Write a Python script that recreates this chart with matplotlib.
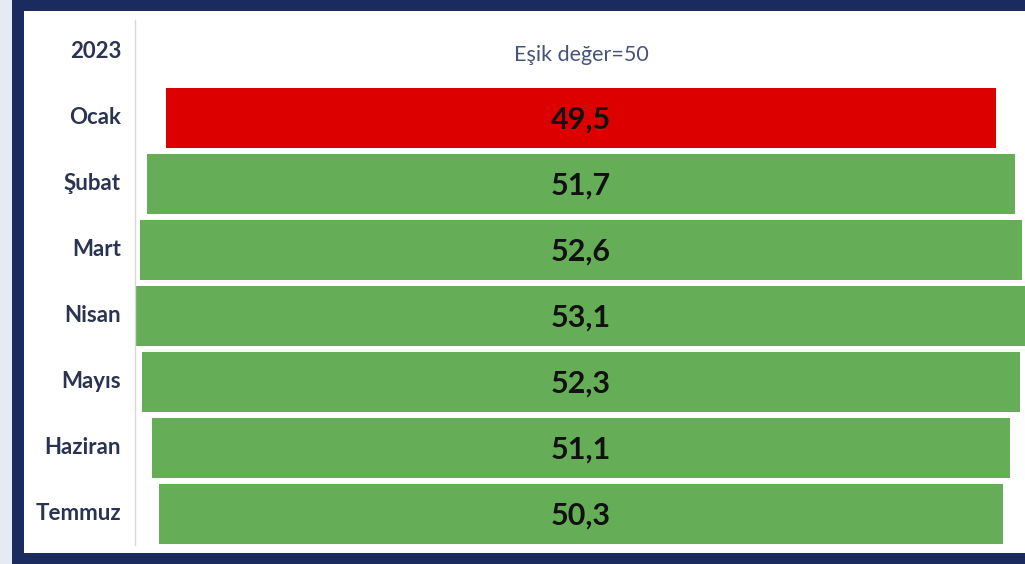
import matplotlib
matplotlib.use("Agg")
import matplotlib.pyplot as plt
from matplotlib.patches import Rectangle

# data
aylar = ["Ocak", "Şubat", "Mart", "Nisan", "Mayıs", "Haziran", "Temmuz"]
degerler = [49.5, 51.7, 52.6, 53.1, 52.3, 51.1, 50.3]
esik = 50
yil = "2023"

W, H = 1025, 564
fig = plt.figure(figsize=(W / 100, H / 100), dpi=100)
fig.patch.set_facecolor("white")

navy = "#1b2b5f"
# frame pieces (figure pixel fractions)
fig.patches.append(Rectangle((0, 0), 12 / W, 1, transform=fig.transFigure,
                             facecolor="#e4ebf3", edgecolor="none", zorder=0))
fig.patches.append(Rectangle((12 / W, 0), 12 / W, 1, transform=fig.transFigure,
                             facecolor=navy, edgecolor="none", zorder=0))
fig.patches.append(Rectangle((12 / W, 1 - 11 / H), 1, 11 / H, transform=fig.transFigure,
                             facecolor=navy, edgecolor="none", zorder=0))
fig.patches.append(Rectangle((12 / W, 0), 1, 11 / H, transform=fig.transFigure,
                             facecolor=navy, edgecolor="none", zorder=0))

ax = fig.add_axes([0, 0, 1, 1])
ax.patch.set_alpha(0)

# pixel mapping: centre x=581, 16.78 px per unit; row 0 at y=118, 66 px per row
px_unit = 16.78
cx = 581
ax.set_xlim((0 - cx) / px_unit, (W - cx) / px_unit)
ax.set_ylim((H - 118) / 66, (0 - 118) / 66)
ax.axis("off")

renkler = ["#dd0000" if v < esik else "#66ad57" for v in degerler]
ypos = list(range(len(aylar)))
ax.barh(ypos, degerler, left=[-v / 2 for v in degerler], height=0.91,
        color=renkler, edgecolor="none")

for y, v in zip(ypos, degerler):
    ax.text(0, y + 0.02, f"{v:.1f}".replace(".", ","), ha="center", va="center",
            fontsize=22, fontweight="bold", color="#111111", family="Lato")

x_lab = (121 - cx) / px_unit
for y, ay in zip(ypos, aylar):
    ax.text(x_lab, y, ay, ha="right", va="center", fontsize=16,
            fontweight="bold", color="#2b3352", family="Lato")
ax.text(x_lab, -1, yil, ha="right", va="center", fontsize=16,
        fontweight="bold", color="#2b3352", family="Lato")
ax.text(0, -0.95, f"Eşik değer={esik}", ha="center", va="center",
        fontsize=15.5, color="#46537a", family="Lato")

# separator line
x_sep = (135 - cx) / px_unit
ax.plot([x_sep, x_sep], [(20 - 118) / 66, (545 - 118) / 66],
        color="#d9d9d9", lw=1)

fig.savefig("out.png", dpi=100)
